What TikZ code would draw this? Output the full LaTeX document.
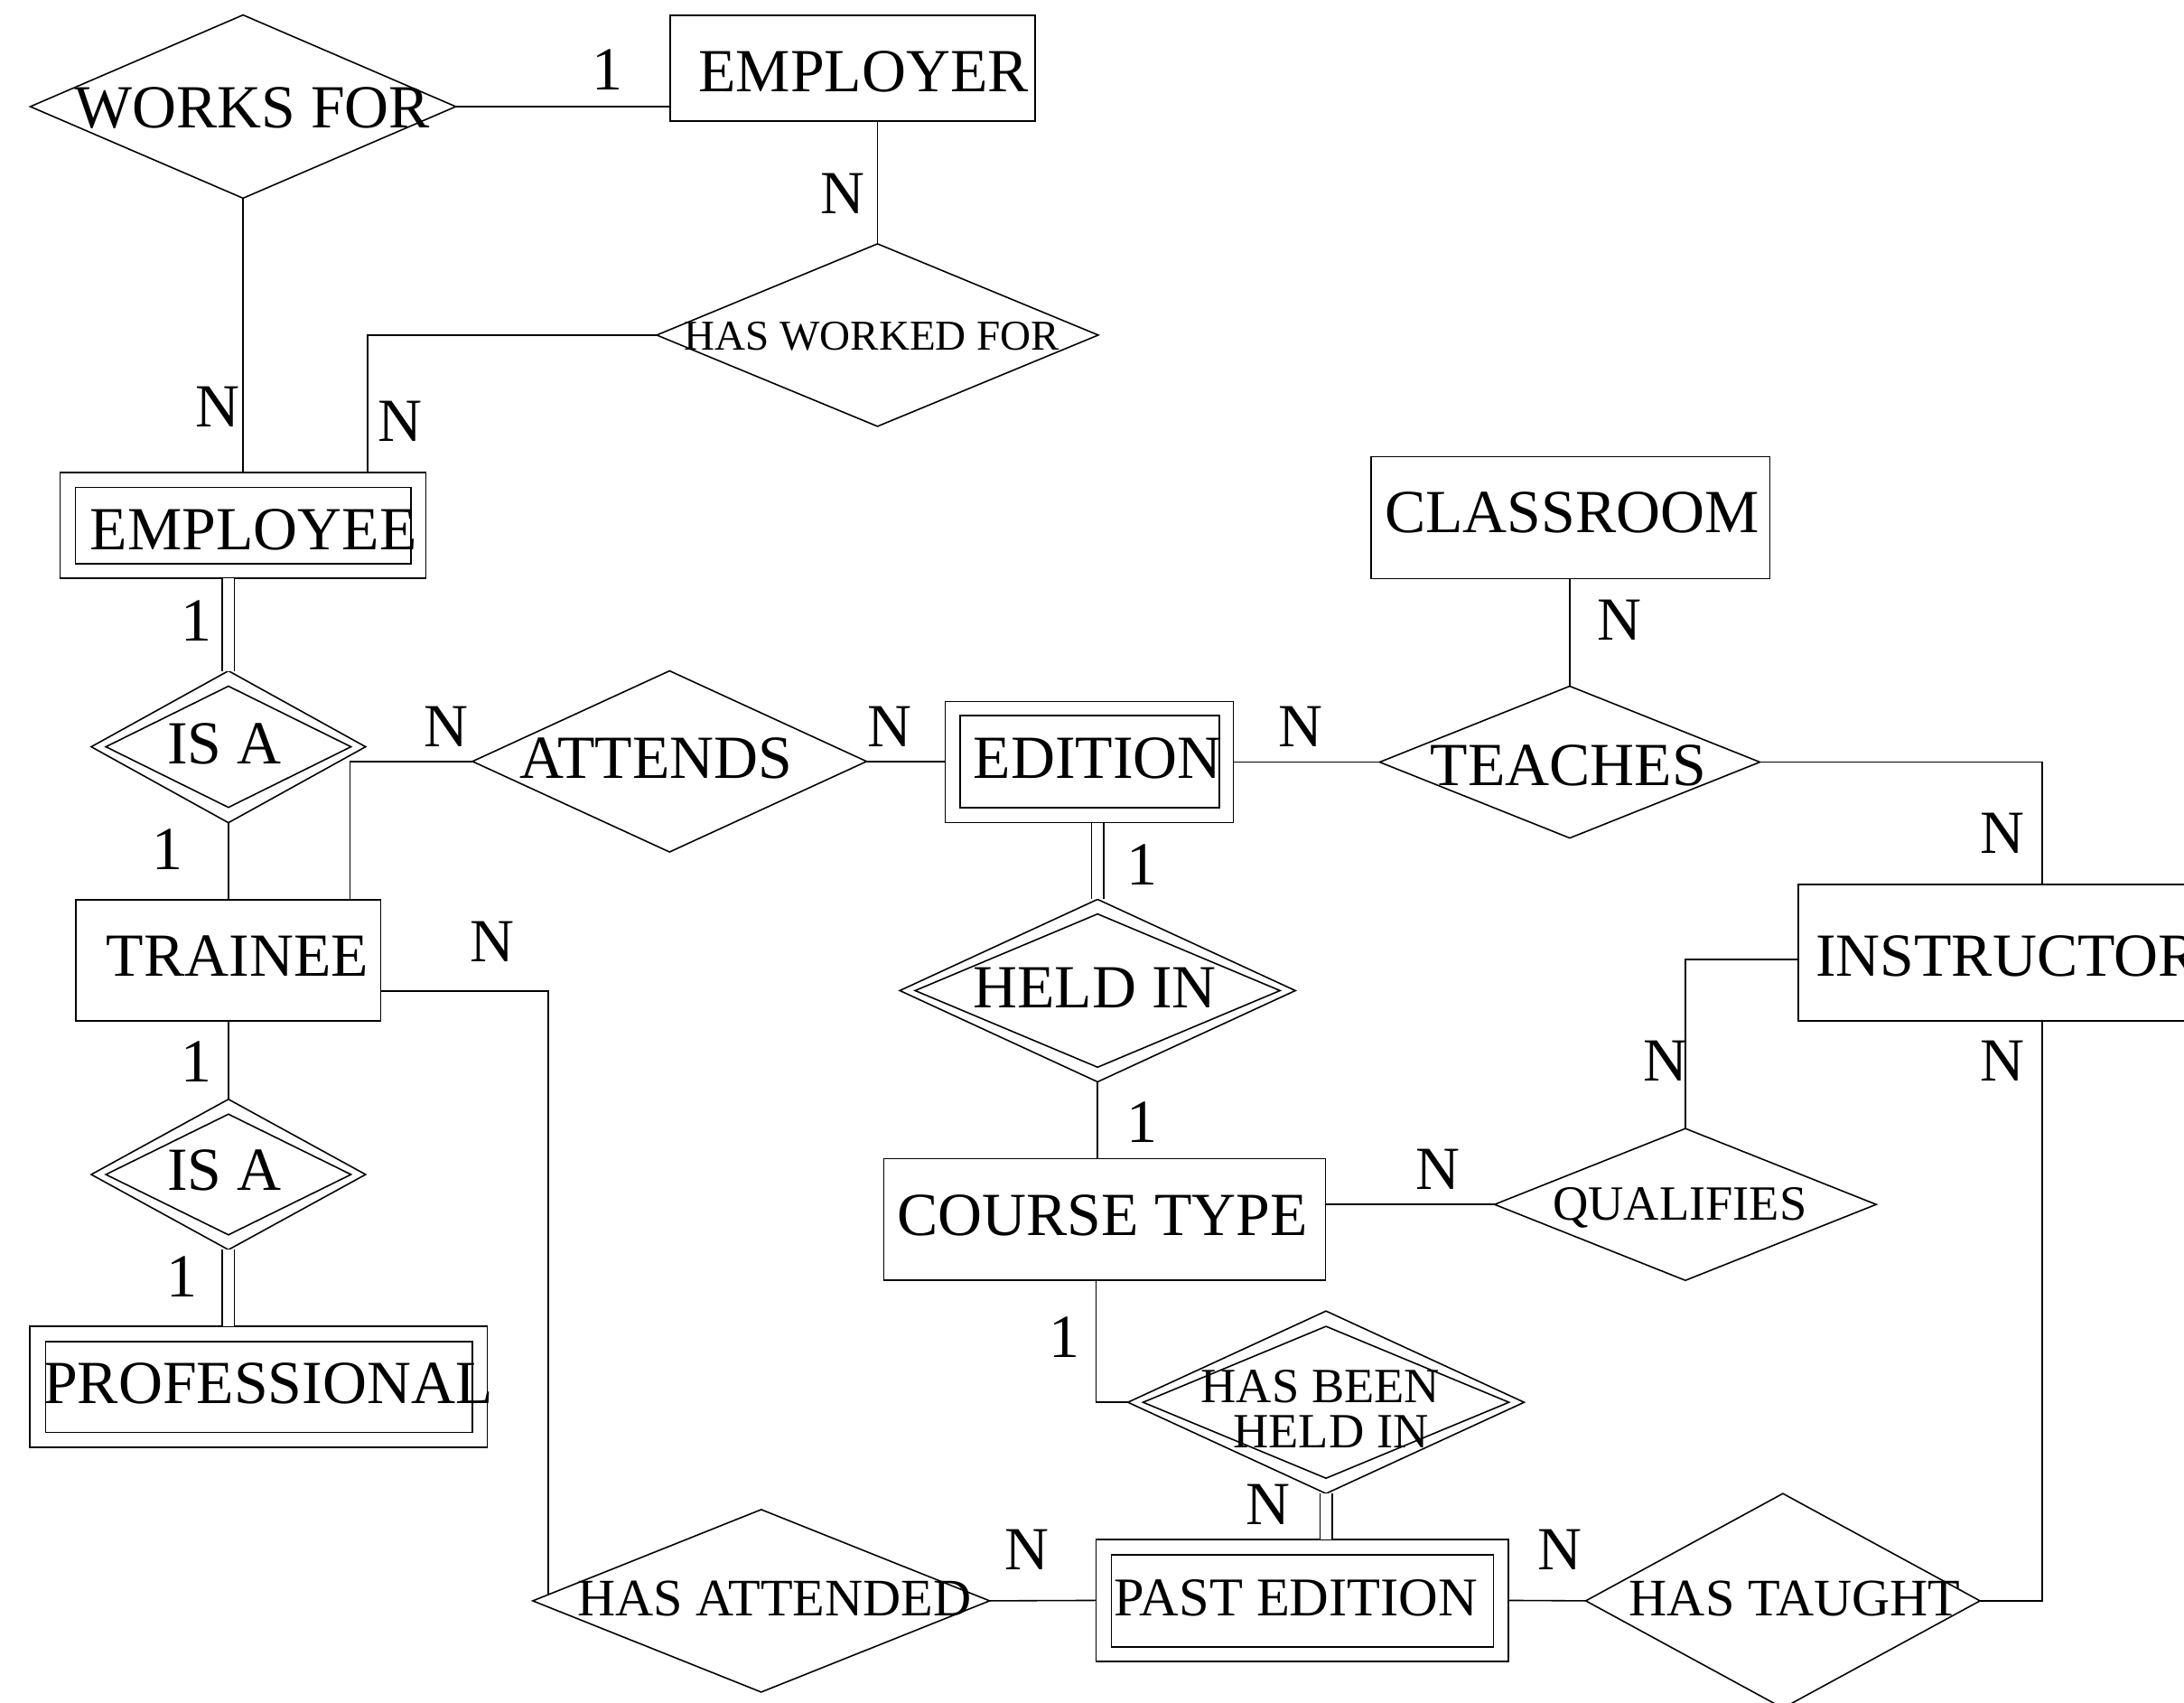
\documentclass[tikz,border=0pt]{standalone}
\usepackage{fontspec}
\setmainfont{Liberation Serif}
\usetikzlibrary{shapes.geometric,calc}
\newcommand{\dpx}{0.01542cm}

\begin{document}
\begin{tikzpicture}[x=0.01542cm,y=-0.01542cm,line width=0.45pt,
    sz/.style 2 args={minimum width=#1*\dpx,minimum height=#2*\dpx},
    ent/.style={rectangle,draw,inner sep=0pt,outer sep=0pt},
    rel/.style={diamond,draw,inner sep=0pt,outer sep=0pt},
    bigtxt/.style={font=\fontsize{19.3}{21}\selectfont,inner sep=0pt,text height=12.78pt,text depth=0pt},
    midtxt/.style={font=\fontsize{16.6}{18}\selectfont,inner sep=0pt,text height=10.99pt,text depth=0pt},
    smltxt/.style={font=\fontsize{15.5}{17}\selectfont,inner sep=0pt,text height=10.26pt,text depth=0pt},
    xsmtxt/.style={font=\fontsize{13.4}{15}\selectfont,inner sep=0pt,text height=8.87pt,text depth=0pt},
    card/.style={bigtxt},
    dbl/.style={double,double distance=3.4pt}]

\path[use as bounding box,clip] (0,0) rectangle (1568,1222);

% entities
\node[ent,sz={262}{76}]       (employer)        at (612,49)      {};
\node[ent,sz={262.5}{76}]     (employee)        at (174.5,377)   {};
\node[ent,sz={241}{55}]       (employee-in)     at (174.7,377.3) {};
\node[ent,sz={219}{87}]       (trainee)         at (163.8,689.3) {};
\node[ent,sz={328.5}{87}]     (professional)    at (185.7,995.5) {};
\node[ent,sz={306.4}{65}]     (professional-in) at (185.9,995.5) {};
\node[ent,sz={207}{87}]       (edition)         at (782,547)     {};
\node[ent,sz={186}{66}]       (edition-in)      at (782.4,546.7) {};
\node[ent,sz={286.4}{87.7}]   (classroom)       at (1127.4,371.6) {};
\node[ent,sz={350}{98}]       (instructor)      at (1466,683.7)  {};
\node[ent,sz={317}{87.2}]     (coursetype)      at (793,875.2)   {};
\node[ent,sz={296}{87.5}]     (pastedition)     at (935,1148.7)  {};
\node[ent,sz={274.3}{65.9}]   (pastedition-in)  at (935,1149)    {};

% relationships
\node[rel,sz={305.5}{131.5}]  (worksfor)    at (174.5,76.5)  {};
\node[rel,sz={317}{131}]      (hasworked)   at (630,240.5)   {};
\node[rel,sz={197}{109}]      (isa1)        at (164,536)     {};
\node[rel,sz={176}{87}]       (isa1-in)     at (164,536)     {};
\node[rel,sz={283}{130}]      (attends)     at (480.7,546.5) {};
\node[rel,sz={273}{109}]      (teaches)     at (1127,547)    {};
\node[rel,sz={284}{131}]      (heldin)      at (788,711)     {};
\node[rel,sz={262}{110}]      (heldin-in)   at (788,711)     {};
\node[rel,sz={274}{109}]      (qualifies)   at (1210,864.5)  {};
\node[rel,sz={284.5}{131}]    (hbhi)        at (952,1006.5)  {};
\node[rel,sz={262.7}{109}]    (hbhi-in)     at (952,1006.5)  {};
\node[rel,sz={328}{131}]      (hasattended) at (546.5,1149)  {};
\node[rel,sz={283}{154}]      (hastaught)   at (1280,1149)   {};
\node[rel,sz={197}{108}]      (isa2)        at (164,843)     {};
\node[rel,sz={176}{86.6}]     (isa2-in)     at (164,843)     {};

% names
\node[bigtxt] (worksfor-t)     at (181,77)     {WORKS FOR};
\node[bigtxt] (employer-t)     at (620,51)     {EMPLOYER};
\node[xsmtxt] (hasworked-t)    at (626,241)    {HAS WORKED FOR};
\node[bigtxt] (employee-t)     at (182,380)    {EMPLOYEE};
\node[bigtxt] (isa1-t)         at (161,534)    {IS A};
\node[bigtxt] (trainee-t)      at (170.5,686)  {TRAINEE};
\node[bigtxt] (isa2-t)         at (161,840)    {IS A};
\node[bigtxt] (professional-t) at (192.5,993)  {PROFESSIONAL};
\node[bigtxt] (attends-t)      at (471,544)    {ATTENDS};
\node[bigtxt] (edition-t)      at (788,544)    {EDITION};
\node[bigtxt] (teaches-t)      at (1126,549)   {TEACHES};
\node[bigtxt] (classroom-t)    at (1128.5,368) {CLASSROOM};
\node[bigtxt,anchor=west] (instructor-t) at (1303,686) {INSTRUCTOR};
\node[bigtxt] (heldin-t)       at (786,709)    {HELD IN};
\node[bigtxt] (coursetype-t)   at (791.5,872)  {COURSE TYPE};
\node[smltxt] (qualifies-t)    at (1206,864)   {QUALIFIES};
\node[smltxt] (hbhi-t1)        at (948,995)    {HAS BEEN};
\node[smltxt] (hbhi-t2)        at (955.5,1027.6) {HELD IN};
\node[midtxt,font=\fontsize{17.2}{19}\selectfont,text height=11.4pt] (pastedition-t) at (930.5,1147) {PAST EDITION};
\node[midtxt] (hasattended-t)  at (556,1147)   {HAS ATTENDED};
\node[midtxt] (hastaught-t)    at (1288.5,1147) {HAS TAUGHT};

% connectors
\draw (worksfor.east) -- (worksfor.east -| employer.west);
\draw (hasworked.north) -- (hasworked.north |- employer.south);
\draw (worksfor.south) -- (worksfor.south |- employee.north);
\draw (hasworked.west) -| ($(employee.north east)+(-42,0)$);
\draw[dbl] (isa1.north |- employee.south) -- (isa1.north);
\draw (isa1.south) -- (isa1.south |- trainee.north);
\draw (attends.west) -| ($(trainee.north east)+(-22,0)$);
\draw (attends.east) -- (attends.east -| edition.west);
\draw (edition.east) -- (edition.east -| teaches.west);
\draw (teaches.north) -- (teaches.north |- classroom.south);
\draw (teaches.east) -| (instructor.north);
\draw[dbl] (heldin.north) -- (heldin.north |- edition.south);
\draw (heldin.south) -- (heldin.south |- coursetype.north);
\draw ($(instructor.west)+(0,5)$) -| (qualifies.north);
\draw (qualifies.west) -- (qualifies.west -| coursetype.east);
\draw ($(coursetype.south)+(-6,0)$) |- (hbhi.west);
\draw[dbl] (hbhi.south) -- (hbhi.south |- pastedition.north);
\draw ($(trainee.east)+(0,22)$) -| ($(hasattended.west)!0.067!(hasattended.north)$);
\draw (hasattended.east) -- (pastedition.west);
\draw (pastedition.east) -- (hastaught.west);
\draw (hastaught.east) -| (instructor.south);
\draw (isa2.north) -- (isa2.north |- trainee.south);
\draw[dbl] (isa2.south) -- (isa2.south |- professional.north);

% cardinalities
\node[card] (c-wf-er)   at (436,50)     {1};
\node[card] (c-hw-er)   at (605,138.5)  {N};
\node[card] (c-wf-ee)   at (156,292)    {N};
\node[card] (c-hw-ee)   at (287.5,302.5) {N};
\node[card] (c-isa1-ee) at (141,445.5)  {1};
\node[card] (c-isa1-tr) at (120,609.5)  {1};
\node[card] (c-at-tr)   at (320.5,521.5) {N};
\node[card] (c-at-ed)   at (638.5,521.5) {N};
\node[card] (c-te-ed)   at (934,521.5)  {N};
\node[card] (c-te-cl)   at (1162.5,445) {N};
\node[card] (c-te-in)   at (1437.5,598) {N};
\node[card] (c-hi-ed)   at (820,620.5)  {1};
\node[card] (c-ha-tr)   at (353.5,676)  {N};
\node[card] (c-qu-in)   at (1196,761.5) {N};
\node[card] (c-ht-in)   at (1437.5,761.5) {N};
\node[card] (c-isa2-tr) at (141,762)    {1};
\node[card] (c-hi-ct)   at (820,805.5)  {1};
\node[card] (c-qu-ct)   at (1032.5,839) {N};
\node[card] (c-isa2-pr) at (130.5,916.5) {1};
\node[card] (c-hb-ct)   at (764,959.5)  {1};
\node[card] (c-hb-pe)   at (910.5,1080) {N};
\node[card] (c-ha-pe)   at (737,1112)   {N};
\node[card] (c-ht-pe)   at (1120,1112)  {N};
\end{tikzpicture}
\end{document}
